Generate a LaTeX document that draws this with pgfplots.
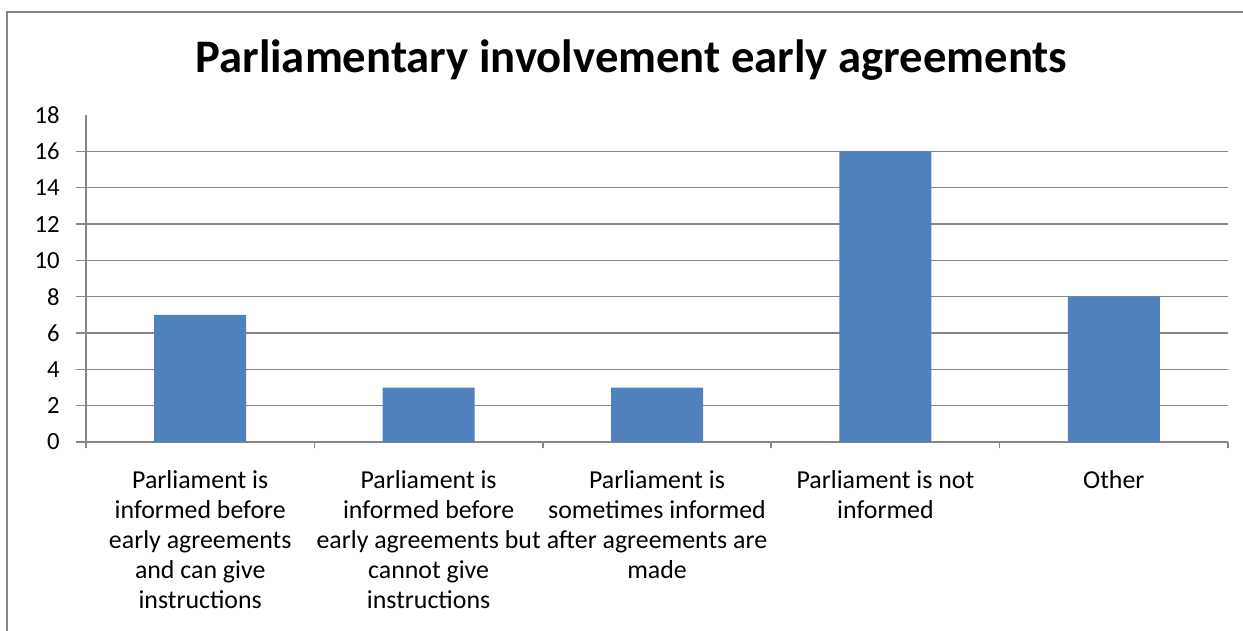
\documentclass[border=0pt]{standalone}
\usepackage{fontspec}
\setmainfont{Carlito}
\usepackage{pgfplots}
\pgfplotsset{compat=1.18}

\definecolor{barblue}{HTML}{4F81BD}
\definecolor{framegray}{HTML}{868686}

\begin{document}
\begin{tikzpicture}[x=0.75bp,y=0.75bp]
  % page in pixel units of the reference, y measured from the bottom
  \useasboundingbox (0,0) rectangle (1243,630);
  \draw[framegray, line width=1.5bp] (7,-10) -- (7,618) -- (1260,618);

  \node[anchor=base, font=\fontsize{35bp}{42bp}\selectfont\bfseries]
    at (631.5,557) {Parliamentary involvement early agreements};

  \begin{axis}[
      at={(64.5bp,141bp)}, anchor=south west,
      scale only axis,
      width=856.5bp, height=245.25bp,
      xmin=0, xmax=5, ymin=0, ymax=18,
      enlargelimits=false,
      axis lines=left,
      axis line style={-, framegray, line width=1.1bp},
      ybar, bar width=69bp,
      xtick={0.5,1.5,2.5,3.5,4.5},
      xticklabels={
        {Parliament is\\informed before\\early agreements\\and can give\\instructions},
        {Parliament is\\informed before\\early agreements but\\cannot give\\instructions},
        {Parliament is\\sometimes informed\\after agreements are\\made},
        {Parliament is not\\informed},
        {Other}},
      xticklabel style={font=\fontsize{19.4bp}{22.5bp}\selectfont, align=center,
        anchor=north, inner sep=0pt, yshift=-13.5bp},
      major x tick style={draw=none},
      minor xtick={0,1,2,3,4,5},
      ytick={0,2,...,16},
      extra y ticks={18},
      extra y tick style={grid=none, major tick style={draw=none}},
      yticklabel style={font=\fontsize{18.5bp}{22bp}\selectfont, inner sep=0pt,
        xshift=-12bp},
      /pgf/number format/assume math mode=true,
      ymajorgrids,
      grid style={framegray, line width=1.1bp},
      tick align=outside,
      major tick length=7.5bp,
      minor tick length=4.5bp,
      tick style={framegray, line width=1.1bp},
    ]
    \addplot[fill=barblue, draw=none] coordinates {
      (0.5,7) (1.5,3) (2.5,3) (3.5,16) (4.5,8)
    };
  \end{axis}
\end{tikzpicture}
\end{document}
